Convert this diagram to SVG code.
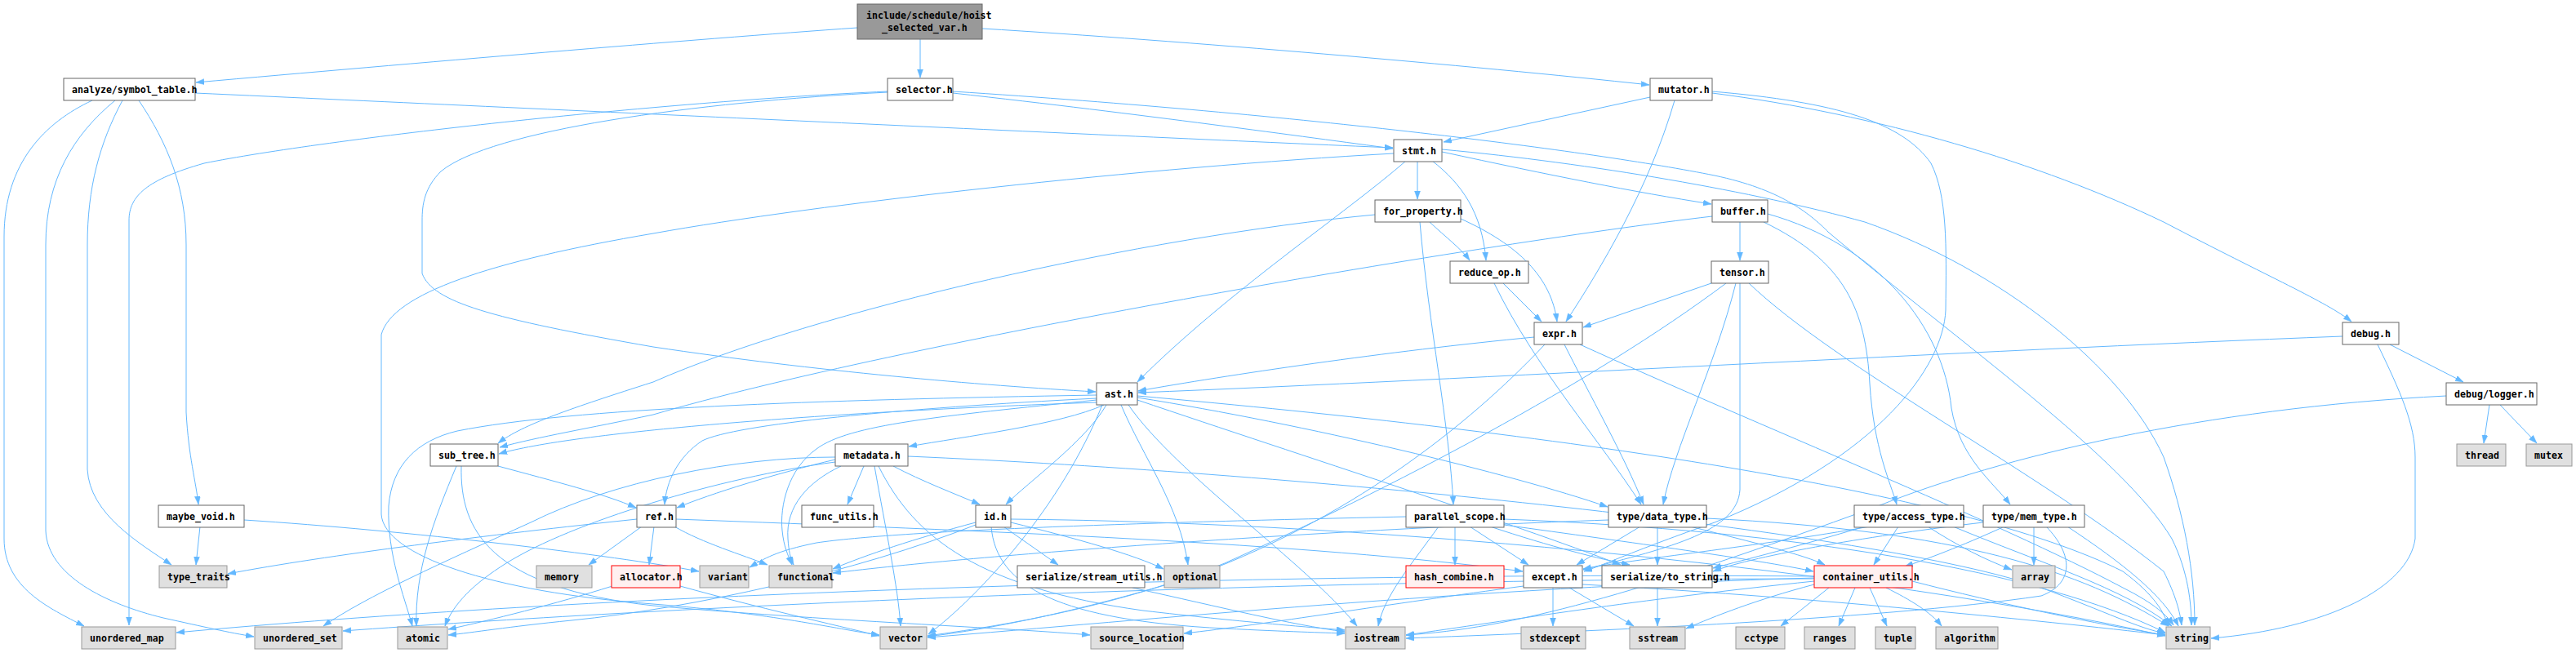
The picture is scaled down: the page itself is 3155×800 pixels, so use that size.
<svg xmlns="http://www.w3.org/2000/svg" width="3155" height="800" viewBox="0 0 3155 800">
<defs>
<marker id="a" markerUnits="userSpaceOnUse" markerWidth="11" markerHeight="8" refX="10" refY="3.5" orient="auto">
<path d="M0,0 L10,3.5 L0,7 z" fill="#63b8ff" stroke="#63b8ff" stroke-width="0.5"/>
</marker>
<style>
.e{fill:none;stroke:#63b8ff;stroke-width:1;marker-end:url(#a)}
.w{fill:#ffffff;stroke:#666666;stroke-width:1}
.g{fill:#e0e0e0;stroke:#999999;stroke-width:1}
.r{fill:#fff0f0;stroke:#ff0000;stroke-width:1}
.m{fill:#999999;stroke:#666666;stroke-width:1}
text{font-family:"DejaVu Sans Mono","Liberation Mono",monospace;font-size:11.6px;font-weight:bold;fill:#000000}
</style>
</defs>
<rect width="3155" height="800" fill="#ffffff"/>
<g id="edges">
<path class="e" d="M1050,34 C850,48 500,78 240,101"/>
<path class="e" d="M1127,48 L1127,95"/>
<path class="e" d="M1203,35 C1450,50 1800,80 2020,104"/>
<path class="e" d="M239,114 C700,135 1400,168 1706,181"/>
<path class="e" d="M113,123 C55,150 5,200 5,290 L5,660 C5,720 60,745 103,767"/>
<path class="e" d="M141,123 C90,165 56,220 56,300 L56,650 C58,705 130,740 200,757 C250,768 280,775 311,780"/>
<path class="e" d="M150,123 C122,175 107,230 107,300 L107,575 C110,630 170,665 210,692"/>
<path class="e" d="M170,123 C205,175 228,230 228,300 L228,505 C231,560 240,590 243,618"/>
<path class="e" d="M1167,114 C1400,140 1600,168 1706,182"/>
<path class="e" d="M1087,113 C850,125 600,160 540,210 C520,230 517,250 517,270 L517,335 C530,370 600,390 800,425 C1000,455 1200,472 1342,480"/>
<path class="e" d="M1087,112 C800,125 400,170 250,200 C180,220 158,240 158,270 L158,766"/>
<path class="e" d="M1167,112 C1600,140 1950,185 2100,215 C2180,232 2215,260 2240,285 C2400,420 2600,560 2660,660 C2680,700 2684,740 2684,766"/>
<path class="e" d="M2021,119 L1768,174"/>
<path class="e" d="M2051,123 C2020,230 1960,330 1918,394"/>
<path class="e" d="M2097,114 C2300,140 2500,200 2650,272 C2780,340 2850,370 2880,394"/>
<path class="e" d="M2097,112 C2250,125 2330,150 2365,200 C2385,240 2384,300 2383,380 C2380,450 2300,560 2100,640 C2000,675 1970,690 1940,700"/>
<path class="e" d="M1736,197 L1736,244"/>
<path class="e" d="M1766,186 C1900,215 2000,235 2096,250"/>
<path class="e" d="M1754,197 C1790,225 1815,260 1820,319"/>
<path class="e" d="M1722,197 C1650,260 1500,360 1393,468"/>
<path class="e" d="M1707,188 C1400,205 1000,250 800,286 C600,320 480,360 467,410 L467,630 C470,680 600,725 800,740 C950,752 1020,770 1077,778"/>
<path class="e" d="M1766,183 C1950,200 2150,235 2284,272 C2450,330 2600,450 2650,560 C2675,630 2688,700 2688,766"/>
<path class="e" d="M1751,272 C1770,290 1790,305 1800,319"/>
<path class="e" d="M1789,268 C1860,300 1900,340 1907,394"/>
<path class="e" d="M1739,272 C1750,400 1775,520 1780,618"/>
<path class="e" d="M1684,263 C1400,290 1000,380 800,468 C700,500 640,520 610,543"/>
<path class="e" d="M2131,272 L2131,319"/>
<path class="e" d="M2097,265 C1800,300 1100,420 800,508 C720,525 660,535 612,548"/>
<path class="e" d="M2160,272 C2260,320 2285,380 2290,470 C2295,550 2315,590 2323,618"/>
<path class="e" d="M2165,262 C2300,300 2380,400 2390,500 C2400,560 2440,590 2462,618"/>
<path class="e" d="M1841,347 L1888,394"/>
<path class="e" d="M1830,347 C1880,450 1960,540 2010,618"/>
<path class="e" d="M2096,347 L1939,401"/>
<path class="e" d="M2126,347 C2100,450 2050,550 2037,618"/>
<path class="e" d="M2131,347 L2131,600 C2128,650 2050,670 1939,698"/>
<path class="e" d="M2142,347 C2250,450 2500,580 2650,700 C2665,730 2670,750 2672,766"/>
<path class="e" d="M2114,347 C1950,470 1700,600 1500,690 C1350,750 1200,770 1136,779"/>
<path class="e" d="M1879,413 C1700,430 1500,460 1394,479"/>
<path class="e" d="M1916,422 C1945,480 1990,560 2013,618"/>
<path class="e" d="M1892,422 C1800,520 1650,640 1450,710 C1300,755 1200,772 1136,780"/>
<path class="e" d="M1935,422 C2150,520 2450,640 2600,720 C2640,740 2655,755 2662,766"/>
<path class="e" d="M2869,412 C2400,430 1800,465 1394,481"/>
<path class="e" d="M2927,422 L3017,468"/>
<path class="e" d="M2912,422 C2940,480 2958,520 2958,560 L2958,660 C2950,720 2850,770 2708,782"/>
<path class="e" d="M3049,496 L3042,543"/>
<path class="e" d="M3062,496 L3107,543"/>
<path class="e" d="M2996,485 C2700,500 2450,560 2300,620 C2000,730 1850,770 1722,778"/>
<path class="e" d="M1352,496 C1300,520 1180,535 1113,547"/>
<path class="e" d="M1343,488 C1100,500 900,520 860,540 C830,560 816,590 814,618"/>
<path class="e" d="M1355,496 C1330,540 1260,590 1232,618"/>
<path class="e" d="M1343,490 C1150,510 1040,520 1000,550 C965,575 955,620 958,650 C960,670 965,680 970,692"/>
<path class="e" d="M1393,487 C1600,520 1850,580 1969,621"/>
<path class="e" d="M1393,490 C1600,560 1850,640 1985,692"/>
<path class="e" d="M1382,496 C1440,580 1600,690 1662,767"/>
<path class="e" d="M1373,496 C1400,560 1445,620 1455,692"/>
<path class="e" d="M1350,496 C1300,620 1200,730 1137,777"/>
<path class="e" d="M1343,484 C1000,490 700,500 560,528 C510,540 480,570 476,620 C474,680 495,730 505,767"/>
<path class="e" d="M1343,493 C1000,505 700,530 611,556"/>
<path class="e" d="M1393,485 C1900,530 2400,600 2600,700 C2640,730 2650,750 2656,767"/>
<path class="e" d="M610,571 C680,590 740,605 779,622"/>
<path class="e" d="M559,571 C530,640 508,700 510,767"/>
<path class="e" d="M565,571 C563,650 600,720 800,742 C1000,760 1250,770 1335,778"/>
<path class="e" d="M1023,563 C950,580 870,605 829,622"/>
<path class="e" d="M1058,571 L1038,618"/>
<path class="e" d="M1094,571 C1130,590 1170,605 1200,618"/>
<path class="e" d="M1071,571 C1085,650 1100,720 1103,767"/>
<path class="e" d="M1030,571 C990,590 962,620 965,660 C966,675 968,684 972,692"/>
<path class="e" d="M1023,560 C900,560 750,590 650,640 C540,690 450,730 396,767"/>
<path class="e" d="M1023,566 C880,585 700,640 620,690 C580,715 555,740 545,767"/>
<path class="e" d="M1076,571 C1120,660 1200,720 1400,748 C1520,762 1600,768 1647,772"/>
<path class="e" d="M1112,559 C1600,580 2300,650 2500,720 C2580,750 2620,770 2652,776"/>
<path class="e" d="M786,645 L721,692"/>
<path class="e" d="M801,645 L795,692"/>
<path class="e" d="M826,645 C860,665 910,680 940,692"/>
<path class="e" d="M780,636 C600,655 400,680 279,703"/>
<path class="e" d="M828,636 C1200,650 1600,665 1865,700"/>
<path class="e" d="M1195,640 C1120,660 1060,680 1020,697"/>
<path class="e" d="M1229,645 L1296,692"/>
<path class="e" d="M1238,640 C1320,660 1390,680 1425,697"/>
<path class="e" d="M1195,643 C1050,700 850,745 700,760 C620,768 580,775 549,778"/>
<path class="e" d="M1214,645 C1220,720 1300,760 1500,770 C1580,774 1620,775 1647,776"/>
<path class="e" d="M1238,636 C1700,640 2300,700 2652,779"/>
<path class="e" d="M1782,645 L1782,692"/>
<path class="e" d="M1800,645 L1872,692"/>
<path class="e" d="M1825,645 C1900,670 1960,685 1996,692"/>
<path class="e" d="M1842,643 C2000,665 2150,685 2221,700"/>
<path class="e" d="M1722,633 C1400,640 1100,650 1000,665 C950,675 935,685 918,695"/>
<path class="e" d="M1762,645 C1730,690 1695,730 1688,767"/>
<path class="e" d="M1842,636 C2200,650 2500,700 2652,775"/>
<path class="e" d="M2009,645 L1931,692"/>
<path class="e" d="M2030,645 L2030,692"/>
<path class="e" d="M2070,645 C2150,665 2210,680 2235,692"/>
<path class="e" d="M2090,635 C2400,650 2550,700 2656,767"/>
<path class="e" d="M1970,637 C1600,650 1200,680 1020,702"/>
<path class="e" d="M2361,645 C2400,670 2430,685 2464,698"/>
<path class="e" d="M2325,645 L2295,692"/>
<path class="e" d="M2284,645 C2200,670 2140,685 2098,696"/>
<path class="e" d="M2392,645 C2500,690 2600,720 2660,767"/>
<path class="e" d="M2290,645 C2150,670 2000,685 1939,697"/>
<path class="e" d="M2491,645 L2491,692"/>
<path class="e" d="M2532,645 C2600,690 2650,730 2668,767"/>
<path class="e" d="M2455,645 C2400,670 2360,685 2333,694"/>
<path class="e" d="M2429,640 C2300,655 2150,680 2098,700"/>
<path class="e" d="M2506,645 C2540,680 2540,715 2500,730 C2300,760 1900,775 1722,782"/>
<path class="e" d="M1902,720 L1902,767"/>
<path class="e" d="M1922,720 L2001,767"/>
<path class="e" d="M1866,718 C1700,740 1550,765 1450,776"/>
<path class="e" d="M1938,716 C2200,730 2500,760 2652,778"/>
<path class="e" d="M2030,720 L2030,767"/>
<path class="e" d="M2310,720 C2340,735 2365,750 2378,767"/>
<path class="e" d="M2240,720 L2181,767"/>
<path class="e" d="M2272,720 L2252,767"/>
<path class="e" d="M2290,720 L2311,767"/>
<path class="e" d="M2222,712 C2000,735 1850,760 1722,778"/>
<path class="e" d="M2222,716 C2150,735 2100,755 2065,770"/>
<path class="e" d="M2342,712 C2450,740 2570,765 2652,778"/>
<path class="e" d="M2222,708 C1800,720 1400,760 1136,781"/>
<path class="e" d="M2222,706 C1500,700 700,730 216,775"/>
<path class="e" d="M2222,709 C1500,710 800,745 420,773"/>
<path class="e" d="M245,645 L240,692"/>
<path class="e" d="M299,637 C500,650 750,680 856,700"/>
<path class="e" d="M750,718 C680,740 600,760 549,771"/>
<path class="e" d="M833,718 C930,745 1020,765 1077,779"/>
<path class="e" d="M1387,720 C1500,745 1580,765 1647,774"/>
</g>
<g id="n_include"><rect class="m" x="1050" y="5" width="153" height="43"/><text x="1061" y="22.5">include/schedule/hoist</text><text x="1080" y="38">_selected_var.h</text></g>
<g id="n_analyze"><rect class="w" x="78" y="96" width="161" height="27"/><text x="88" y="114">analyze/symbol_table.h</text></g>
<g id="n_selector"><rect class="w" x="1087" y="96" width="80" height="27"/><text x="1097" y="114">selector.h</text></g>
<g id="n_mutator"><rect class="w" x="2021" y="96" width="76" height="27"/><text x="2031" y="114">mutator.h</text></g>
<g id="n_stmt"><rect class="w" x="1707" y="171" width="59" height="27"/><text x="1717" y="189">stmt.h</text></g>
<g id="n_for_property"><rect class="w" x="1684" y="245" width="105" height="27"/><text x="1694" y="263">for_property.h</text></g>
<g id="n_buffer"><rect class="w" x="2097" y="245" width="68" height="27"/><text x="2107" y="263">buffer.h</text></g>
<g id="n_reduce_op"><rect class="w" x="1776" y="320" width="96" height="27"/><text x="1786" y="338">reduce_op.h</text></g>
<g id="n_tensor"><rect class="w" x="2096" y="320" width="70" height="27"/><text x="2106" y="338">tensor.h</text></g>
<g id="n_expr"><rect class="w" x="1879" y="395" width="59" height="27"/><text x="1889" y="413">expr.h</text></g>
<g id="n_debug"><rect class="w" x="2869" y="395" width="69" height="27"/><text x="2879" y="413">debug.h</text></g>
<g id="n_ast"><rect class="w" x="1343" y="469" width="50" height="27"/><text x="1353" y="487">ast.h</text></g>
<g id="n_logger"><rect class="w" x="2996" y="469" width="111" height="27"/><text x="3006" y="487">debug/logger.h</text></g>
<g id="n_sub_tree"><rect class="w" x="527" y="544" width="83" height="27"/><text x="537" y="562">sub_tree.h</text></g>
<g id="n_metadata"><rect class="w" x="1023" y="544" width="89" height="27"/><text x="1033" y="562">metadata.h</text></g>
<g id="n_thread"><rect class="g" x="3009" y="544" width="60" height="27"/><text x="3019" y="562">thread</text></g>
<g id="n_mutex"><rect class="g" x="3094" y="544" width="56" height="27"/><text x="3104" y="562">mutex</text></g>
<g id="n_maybe_void"><rect class="w" x="194" y="619" width="105" height="27"/><text x="204" y="637">maybe_void.h</text></g>
<g id="n_ref"><rect class="w" x="780" y="619" width="48" height="27"/><text x="790" y="637">ref.h</text></g>
<g id="n_func_utils"><rect class="w" x="982" y="619" width="88" height="27"/><text x="992" y="637">func_utils.h</text></g>
<g id="n_id"><rect class="w" x="1195" y="619" width="43" height="27"/><text x="1205" y="637">id.h</text></g>
<g id="n_parallel_scope"><rect class="w" x="1722" y="619" width="120" height="27"/><text x="1732" y="637">parallel_scope.h</text></g>
<g id="n_data_type"><rect class="w" x="1970" y="619" width="120" height="27"/><text x="1980" y="637">type/data_type.h</text></g>
<g id="n_access_type"><rect class="w" x="2271" y="619" width="134" height="27"/><text x="2281" y="637">type/access_type.h</text></g>
<g id="n_mem_type"><rect class="w" x="2429" y="619" width="124" height="27"/><text x="2439" y="637">type/mem_type.h</text></g>
<g id="n_type_traits"><rect class="g" x="195" y="693" width="83" height="27"/><text x="205" y="711">type_traits</text></g>
<g id="n_memory"><rect class="g" x="657" y="693" width="68" height="27"/><text x="667" y="711">memory</text></g>
<g id="n_allocator"><rect class="r" x="749" y="693" width="84" height="27"/><text x="759" y="711">allocator.h</text></g>
<g id="n_variant"><rect class="g" x="857" y="693" width="60" height="27"/><text x="867" y="711">variant</text></g>
<g id="n_functional"><rect class="g" x="942" y="693" width="77" height="27"/><text x="952" y="711">functional</text></g>
<g id="n_stream_utils"><rect class="w" x="1246" y="693" width="156" height="27"/><text x="1256" y="711">serialize/stream_utils.h</text></g>
<g id="n_optional"><rect class="g" x="1426" y="693" width="68" height="27"/><text x="1436" y="711">optional</text></g>
<g id="n_hash_combine"><rect class="r" x="1722" y="693" width="120" height="27"/><text x="1732" y="711">hash_combine.h</text></g>
<g id="n_except"><rect class="w" x="1866" y="693" width="72" height="27"/><text x="1876" y="711">except.h</text></g>
<g id="n_to_string"><rect class="w" x="1962" y="693" width="135" height="27"/><text x="1972" y="711">serialize/to_string.h</text></g>
<g id="n_container_utils"><rect class="r" x="2222" y="693" width="120" height="27"/><text x="2232" y="711">container_utils.h</text></g>
<g id="n_array"><rect class="g" x="2465" y="693" width="52" height="27"/><text x="2475" y="711">array</text></g>
<g id="n_unordered_map"><rect class="g" x="100" y="768" width="115" height="27"/><text x="110" y="786">unordered_map</text></g>
<g id="n_unordered_set"><rect class="g" x="312" y="768" width="107" height="27"/><text x="322" y="786">unordered_set</text></g>
<g id="n_atomic"><rect class="g" x="487" y="768" width="61" height="27"/><text x="497" y="786">atomic</text></g>
<g id="n_vector"><rect class="g" x="1078" y="768" width="57" height="27"/><text x="1088" y="786">vector</text></g>
<g id="n_source_location"><rect class="g" x="1336" y="768" width="113" height="27"/><text x="1346" y="786">source_location</text></g>
<g id="n_iostream"><rect class="g" x="1648" y="768" width="73" height="27"/><text x="1658" y="786">iostream</text></g>
<g id="n_stdexcept"><rect class="g" x="1863" y="768" width="79" height="27"/><text x="1873" y="786">stdexcept</text></g>
<g id="n_sstream"><rect class="g" x="1996" y="768" width="68" height="27"/><text x="2006" y="786">sstream</text></g>
<g id="n_cctype"><rect class="g" x="2126" y="768" width="60" height="27"/><text x="2136" y="786">cctype</text></g>
<g id="n_ranges"><rect class="g" x="2210" y="768" width="62" height="27"/><text x="2220" y="786">ranges</text></g>
<g id="n_tuple"><rect class="g" x="2297" y="768" width="49" height="27"/><text x="2307" y="786">tuple</text></g>
<g id="n_algorithm"><rect class="g" x="2371" y="768" width="76" height="27"/><text x="2381" y="786">algorithm</text></g>
<g id="n_string"><rect class="g" x="2653" y="768" width="54" height="27"/><text x="2663" y="786">string</text></g>
</svg>
